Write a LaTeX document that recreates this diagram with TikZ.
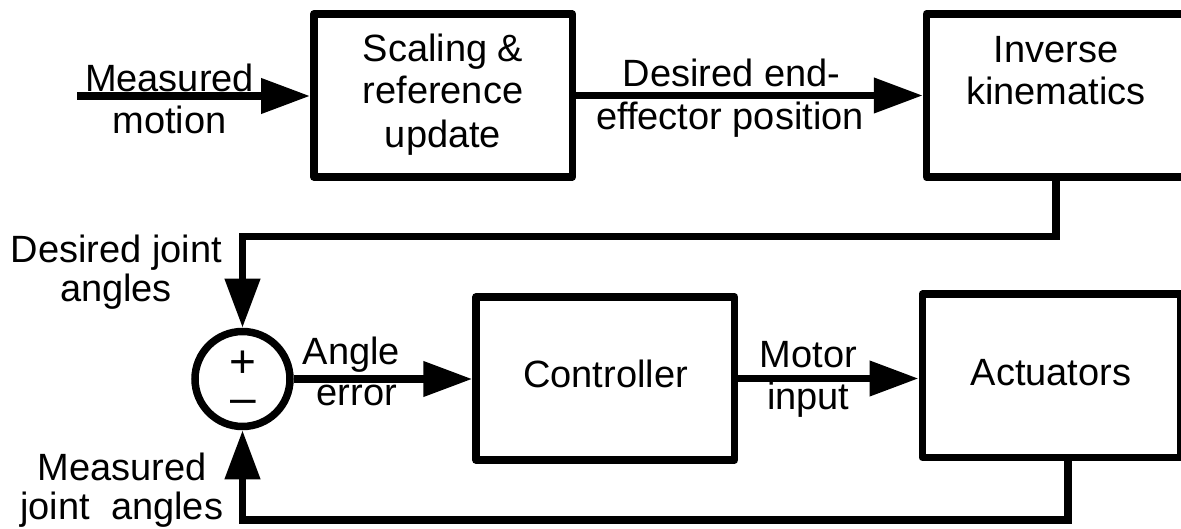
\documentclass[tikz,border=0pt]{standalone}
\usepackage{fontspec}
\setmainfont{Liberation Sans}
\usetikzlibrary{arrows.meta}
\begin{document}
\begin{tikzpicture}[x=1pt,y=-1pt,
  wire/.style={line width=7.5pt},
  flow/.style={wire,-{Triangle[length=49pt,width=34pt]}},
  block/.style={draw,line width=7.5pt,line join=round,minimum width=258.5pt,
    minimum height=163pt,inner sep=0pt},
  sumnode/.style={draw,circle,line width=7.5pt,minimum size=95pt,inner sep=0pt},
  lbl/.style={inner sep=0pt,anchor=base,font=\fontsize{38}{40}\selectfont},
  signs/.style={inner sep=0pt,align=center,font=\fontsize{46}{36.5}\selectfont}]
\useasboundingbox (0,0) rectangle (1181,529);
\clip (0,0) rectangle (1181,529);

% blocks
\node[block] (scale) at (443,95.5) {};
\node[block] (ik) at (1055.75,95.5) {};
\node[block] (ctrl) at (605.25,378.5) {};
\node[block] (act) at (1051.5,375.75) {};
\node[sumnode] (sum) at (242.5,379) {};

% free ends of connectors
\coordinate (src) at (77,96);
\coordinate (fb) at (1068,520);

% signal flow
\draw[flow] (src) -- (src -| scale.west);
\draw[flow] (scale.east) -- (ik.west);
\draw[flow] (ik.south) -- ++(0,56) -| (sum.north);
\draw[flow] (sum.east) -- (sum.east -| ctrl.west);
\draw[flow] (ctrl.east) -- (ctrl.east -| act.west);
\draw[flow] (fb |- act.south) -- (fb) -| (sum.south);

% block texts
\node[lbl] (scaleA) at (443,61.7) {Scaling \&};
\node[lbl] (scaleB) at (443,104) {reference};
\node[lbl] (scaleC) at (443,148) {update};
\node[lbl] (ikA) at (1056,62.3) {Inverse};
\node[lbl] (ikB) at (1056,105) {kinematics};
\node[lbl] (ctrlT) at (605.5,387.3) {Controller};
\node[lbl] (actT) at (1051,385.7) {Actuators};
\node[signs] (pm) at (243.2,382) {+\\\textendash};

% signal labels
\node[lbl] (inA) at (169.5,91.7) {Measured};
\node[lbl] (inB) at (169.5,133.3) {motion};
\node[lbl] (posA) at (731.5,87) {Desired end-};
\node[lbl] (posB) at (730,130) {effector position};
\node[lbl] (refA) at (116.5,263) {Desired joint};
\node[lbl] (refB) at (116,302) {angles};
\node[lbl] (errA) at (351.3,364) {Angle};
\node[lbl] (errB) at (356.7,405.7) {error};
\node[lbl] (motA) at (808.3,367.3) {Motor};
\node[lbl] (motB) at (808.3,409) {input};
\node[lbl] (measA) at (122.3,480) {Measured};
\node[lbl] (measB) at (121.7,519) {joint~ angles};
\end{tikzpicture}
\end{document}
